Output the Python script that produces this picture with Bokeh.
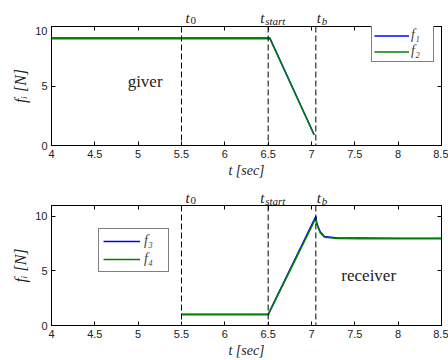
from bokeh.plotting import figure
from bokeh.layouts import column
from bokeh.models import (Range1d, FixedTicker, LinearAxis, Span, Label, Legend,
                          LegendItem, CustomJSTickFormatter)
from bokeh.embed import file_html
from bokeh.resources import INLINE

# ---- data ----
t_top = [4.0, 6.52, 7.03]
f1 = [9.03, 9.03, 0.92]
f2 = [8.97, 8.97, 0.88]

t_bot = [5.5, 6.5, 7.05, 7.06, 7.1, 7.15, 7.3, 7.6, 8.0, 8.5]
f3 = [1.02, 1.02, 10.0, 9.4, 8.6, 8.15, 8.02, 8.01, 8.0, 8.0]
f4 = [0.98, 0.98, 9.85, 9.3, 8.5, 8.1, 7.97, 7.96, 7.96, 7.96]

event_t = [5.5, 6.5, 7.05]
event_sub = ["0", "start", "b"]
event_dx = [4, -8, 1]

x_ticks = [4, 4.5, 5, 5.5, 6, 6.5, 7, 7.5, 8, 8.5]
y_ticks = [0, 5, 10]

BLUE = "#0000ff"
GREEN = "#008000"
SERIF = "Liberation Serif"
SANS = "Liberation Sans"
TXT = "#222222"
W = 448
BL, BR = 51, 7

fmt = CustomJSTickFormatter(code="return tick.toString();")


def strip(xr, h, base):
    s = figure(width=W, height=h, x_range=xr, y_range=Range1d(0, h),
               x_axis_type=None, y_axis_type=None, output_backend="svg",
               toolbar_location=None, min_border_left=BL, min_border_right=BR,
               min_border_top=0, min_border_bottom=0)
    s.outline_line_color = None
    s.grid.visible = False
    for t, sub, dx in zip(event_t, event_sub, event_dx):
        s.add_layout(Label(x=t, y=base, x_offset=dx, text="t",
                           text_font=SERIF, text_font_style="italic",
                           text_font_size="15px", text_color=TXT,
                           text_baseline="alphabetic"))
        s.add_layout(Label(x=t, y=base - 3, x_offset=dx + 5, text=sub,
                           text_font=SERIF,
                           text_font_style="normal" if sub == "0" else "italic",
                           text_font_size="11px", text_color=TXT,
                           text_baseline="alphabetic"))
    return s


def style(p, ymax):
    p.y_range = Range1d(0, ymax)
    p.grid.visible = False
    p.outline_line_color = "black"
    p.outline_line_width = 1
    for ax in p.xaxis:
        ax.ticker = FixedTicker(ticks=x_ticks)
    for ax in p.yaxis:
        ax.ticker = FixedTicker(ticks=y_ticks)
    for ax in list(p.xaxis) + list(p.yaxis):
        ax.formatter = fmt
        ax.major_tick_in = 4
        ax.major_tick_out = 0
        ax.minor_tick_line_color = None
        ax.axis_line_color = "black"
        ax.major_tick_line_color = "black"
        ax.major_label_text_font = SANS
        ax.major_label_text_font_size = "11px"
        ax.major_label_text_color = TXT
        ax.major_label_standoff = 4
        ax.axis_label_text_font = SERIF
        ax.axis_label_text_font_style = "italic"
        ax.axis_label_text_color = TXT
    p.xaxis.axis_label = "t [sec]"
    p.xaxis.axis_label_standoff = 2
    p.xaxis.axis_label_text_font_size = "14px"
    p.yaxis.axis_label = "f\u1d62 [N]"
    p.yaxis.axis_label_standoff = 3
    p.yaxis.axis_label_text_font_size = "16px"
    top = LinearAxis(ticker=FixedTicker(ticks=x_ticks), major_tick_in=4, major_tick_out=0,
                     minor_tick_line_color=None, major_label_text_color=None,
                     major_label_text_font_size="1px", major_label_standoff=0,
                     axis_line_color="black")
    right = LinearAxis(ticker=FixedTicker(ticks=y_ticks), major_tick_in=4, major_tick_out=0,
                       minor_tick_line_color=None, major_label_text_color=None,
                       major_label_text_font_size="1px", major_label_standoff=0,
                       axis_line_color="black")
    p.add_layout(top, "above")
    p.add_layout(right, "right")
    for t in event_t:
        p.add_layout(Span(location=t, dimension="height", line_color="black",
                          line_width=1, line_dash="6 3"))


xr1 = Range1d(4, 8.5)
xr2 = Range1d(4, 8.5)

# ---- top ----
s1 = strip(xr1, 26, 9)
p1 = figure(width=W, height=154, x_range=xr1, output_backend="svg", toolbar_location=None,
            min_border_top=0, min_border_bottom=32, min_border_left=BL, min_border_right=BR)
style(p1, 10)
r1 = p1.line(t_top, f1, line_color=BLUE, line_width=1.5)
r2 = p1.line(t_top, f2, line_color=GREEN, line_width=1.5)
p1.add_layout(Label(x=5.08, y=5.4, text="giver", text_font=SERIF, text_font_size="17px",
                    text_color=TXT, text_align="center", text_baseline="middle"))
leg1 = Legend(items=[LegendItem(label="f\u2081", renderers=[r1]),
                     LegendItem(label="f\u2082", renderers=[r2])],
              location=(320, 83), glyph_width=35, glyph_height=13, label_height=13,
              label_standoff=2, padding=2, spacing=0, margin=0,
              label_text_font=SERIF, label_text_font_style="italic",
              label_text_font_size="14px", border_line_color="black",
              border_line_width=1, background_fill_alpha=1)
p1.add_layout(leg1, "center")

# ---- bottom ----
s2 = strip(xr2, 25, 8)
p2 = figure(width=W, height=155, x_range=xr2, output_backend="svg", toolbar_location=None,
            min_border_top=0, min_border_bottom=33, min_border_left=BL, min_border_right=BR)
style(p2, 11)
r3 = p2.line(t_bot, f3, line_color=BLUE, line_width=1.5)
r4 = p2.line(t_bot, f4, line_color=GREEN, line_width=1.5)
p2.add_layout(Label(x=7.66, y=4.6, text="receiver", text_font=SERIF, text_font_size="17px",
                    text_color=TXT, text_align="center", text_baseline="middle"))
leg2 = Legend(items=[LegendItem(label="f\u2083", renderers=[r3]),
                     LegendItem(label="f\u2084", renderers=[r4])],
              location=(47, 53), glyph_width=37, glyph_height=14, label_height=14,
              label_standoff=4, padding=4, spacing=2, margin=0,
              label_text_font=SERIF, label_text_font_style="italic",
              label_text_font_size="14px", border_line_color="black",
              border_line_width=1, background_fill_alpha=1)
p2.add_layout(leg2, "center")

layout = column(s1, p1, s2, p2, spacing=0)
open("out.html", "w").write(file_html(layout, INLINE))
